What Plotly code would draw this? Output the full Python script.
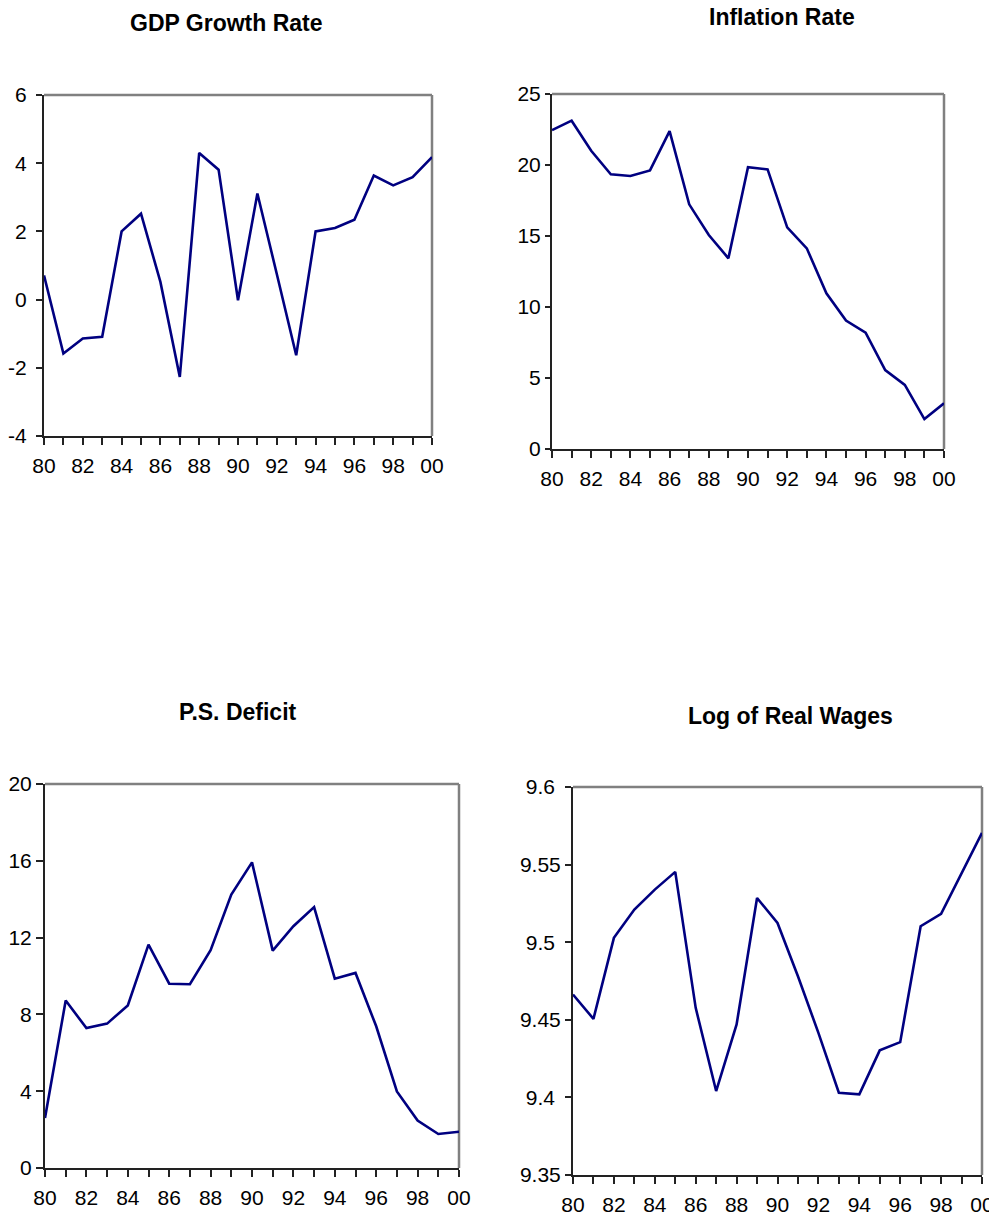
import plotly.graph_objects as go

years = list(range(1980, 2001))
year_labels = ["80", "", "82", "", "84", "", "86", "", "88", "", "90", "", "92", "", "94", "", "96", "", "98", "", "00"]

gdp_growth = [0.71, -1.58, -1.14, -1.09, 2.00, 2.52, 0.52, -2.27, 4.30, 3.81, -0.02,
              3.11, 0.75, -1.63, 2.00, 2.10, 2.34, 3.64, 3.35, 3.59, 4.18]
inflation = [22.46, 23.12, 21.00, 19.34, 19.23, 19.62, 22.39, 17.23, 15.07, 13.43, 19.84,
             19.69, 15.61, 14.13, 10.96, 9.04, 8.19, 5.56, 4.51, 2.11, 3.22]
ps_deficit = [2.60, 8.72, 7.29, 7.52, 8.47, 11.63, 9.60, 9.57, 11.34, 14.24, 15.92,
              11.32, 12.59, 13.59, 9.86, 10.16, 7.38, 3.99, 2.47, 1.77, 1.89]
log_wages = [9.4663, 9.4506, 9.5028, 9.5210, 9.5339, 9.5453, 9.4577, 9.4041, 9.4470, 9.5285, 9.5124,
             9.4780, 9.4416, 9.4030, 9.4020, 9.4303, 9.4356, 9.5103, 9.5182, 9.5446, 9.5704]

titles = ["GDP Growth Rate", "Inflation Rate", "P.S. Deficit", "Log of Real Wages"]
series = [gdp_growth, inflation, ps_deficit, log_wages]

y_ticks = [
    [-4, -2, 0, 2, 4, 6],
    [0, 5, 10, 15, 20, 25],
    [0, 4, 8, 12, 16, 20],
    [9.35, 9.40, 9.45, 9.50, 9.55, 9.60],
]
y_ticktext = [
    ["-4", "-2", "0", "2", "4", "6"],
    ["0", "5", "10", "15", "20", "25"],
    ["0", "4", "8", "12", "16", "20"],
    ["9.35", "9.4\u00a0", "9.45", "9.5\u00a0", "9.55", "9.6\u00a0"],
]

W, H = 997, 1219
OFF = 8  # page body margin
# plot areas in screen pixels: (left, right, top, bottom)
boxes = [(44, 432, 95, 436), (552, 944, 94, 449), (45, 459, 784, 1168), (573, 982, 787, 1175)]
title_pos = [(226, 23), (782, 17), (238, 712), (790, 716)]
y_standoff = [5, 0, 0, 0]
y_ticklen = [6, 5, 7, 6]

FONT = "Liberation Sans, Arial, sans-serif"
fig = go.Figure()
layout = dict(width=W, height=H, margin=dict(l=0, r=0, t=0, b=0, autoexpand=False),
              template="none",
              paper_bgcolor="white", plot_bgcolor="white", showlegend=False,
              font=dict(family=FONT, size=21, color="black"))
annotations = []
shapes = []
for i in range(4):
    n = "" if i == 0 else str(i + 1)
    l, r, t, b = [v - OFF for v in boxes[i]]
    fig.add_trace(go.Scatter(x=years, y=series[i], mode="lines",
                             line=dict(color="#000080", width=2.6),
                             xaxis="x" + n, yaxis="y" + n, hoverinfo="skip"))
    layout["xaxis" + n] = dict(
        domain=[l / W, r / W], anchor="y" + n, range=[1980, 2000], automargin=False,
        tickmode="array", tickvals=years, ticktext=year_labels,
        ticks="outside", ticklen=7, tickwidth=1.5, tickcolor="#222",
        showline=True, linecolor="#222", linewidth=2, showgrid=False, zeroline=False,
        tickfont=dict(size=21, family=FONT, color="black"), ticklabelstandoff=3)
    ylo, yhi = y_ticks[i][0], y_ticks[i][-1]
    layout["yaxis" + n] = dict(
        domain=[1 - b / H, 1 - t / H], anchor="x" + n, range=[ylo, yhi], automargin=False,
        tickmode="array", tickvals=y_ticks[i], ticktext=y_ticktext[i],
        ticks="outside", ticklen=y_ticklen[i], tickwidth=1.5, tickcolor="#222",
        showline=True, linecolor="#222", linewidth=2, showgrid=False, zeroline=False,
        tickfont=dict(size=21, family=FONT, color="black"), ticklabelstandoff=y_standoff[i])
    # gray top and right frame of the plot area
    shapes.append(dict(type="line", xref="x" + n + " domain", yref="y" + n + " domain",
                       x0=0, x1=1, y0=1, y1=1, line=dict(color="#808080", width=2.5), layer="below"))
    shapes.append(dict(type="line", xref="x" + n + " domain", yref="y" + n + " domain",
                       x0=1, x1=1, y0=0, y1=1, line=dict(color="#808080", width=2.5), layer="below"))
    tx, ty = title_pos[i]
    annotations.append(dict(text="<b>" + titles[i] + "</b>", xref="paper", yref="paper",
                            x=(tx - OFF) / W, y=1 - (ty - OFF) / H, xanchor="center", yanchor="middle",
                            showarrow=False, font=dict(size=23, family=FONT, color="black")))
layout["annotations"] = annotations
layout["shapes"] = shapes
fig.update_layout(**layout)
fig.write_html("out.html")
